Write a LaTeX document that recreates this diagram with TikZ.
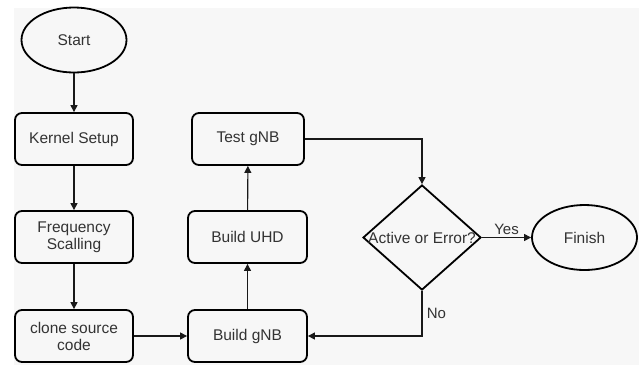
\documentclass[tikz,border=0pt]{standalone}
\usepackage{fontspec}
\setmainfont{Liberation Sans}
\usetikzlibrary{shapes.geometric,arrows.meta}
\begin{document}
\begin{tikzpicture}[x=1pt,y=-1pt,
  every node/.style={font=\fontsize{15.5}{17}\selectfont, text=black!80},
  procbox/.style={draw=black, line width=1.8pt, rounded corners=7pt, minimum width=116pt, minimum height=52pt, align=center, inner sep=1pt},
  term/.style={draw=black, line width=1.8pt, ellipse, minimum width=105pt, minimum height=65pt, inner sep=0pt},
  decision/.style={draw=black, line width=1.8pt, diamond, minimum width=118pt, minimum height=105pt, inner sep=0pt},
  conn/.style={draw=black!90, line width=1.1pt, -{Triangle[length=7pt,width=7pt]}},
  lbl/.style={font=\fontsize{15}{16}\selectfont}]
\useasboundingbox (0,0) rectangle (639,365);
\fill[white] (0,0) rectangle (639,365);
\fill[black!3] (14,8) rectangle (639,365);
\node[term] (start) at (74,40) {Start};
\node[procbox, minimum width=118pt] (kernel) at (74,139) {Kernel Setup};
\node[procbox, minimum width=118pt] (freq) at (74,237) {Frequency\\Scalling};
\node[procbox, minimum width=118pt] (clone) at (74,336) {clone source\\code};
\node[procbox, minimum width=112pt] (test) at (248,139) {Test gNB};
\node[procbox, minimum width=119pt] (uhd) at (247.5,237) {Build UHD};
\node[procbox, minimum width=119pt] (bgnb) at (247.5,336) {Build gNB};
\node[decision] (dec) at (422,237.5) {};
\node (dectext) at (dec.center) {Active or Error?};
\node[term] (finish) at (584.5,237.5) {Finish};
\draw[conn] (start) -- (kernel);
\draw[conn] (kernel) -- (freq);
\draw[conn] (freq) -- (clone);
\draw[conn] (clone) -- (bgnb);
\draw[conn] (bgnb) -- (uhd);
\draw[conn] (uhd) -- (test);
\draw[conn] (test.east) -| (dec.north);
\draw[conn] (dec.east) -- node[lbl, above, yshift=-1pt] {Yes} (finish.west);
\draw[conn] (dec.south) |- node[lbl, pos=0.25, right, xshift=1pt] {No} (bgnb.east);
\end{tikzpicture}
\end{document}
